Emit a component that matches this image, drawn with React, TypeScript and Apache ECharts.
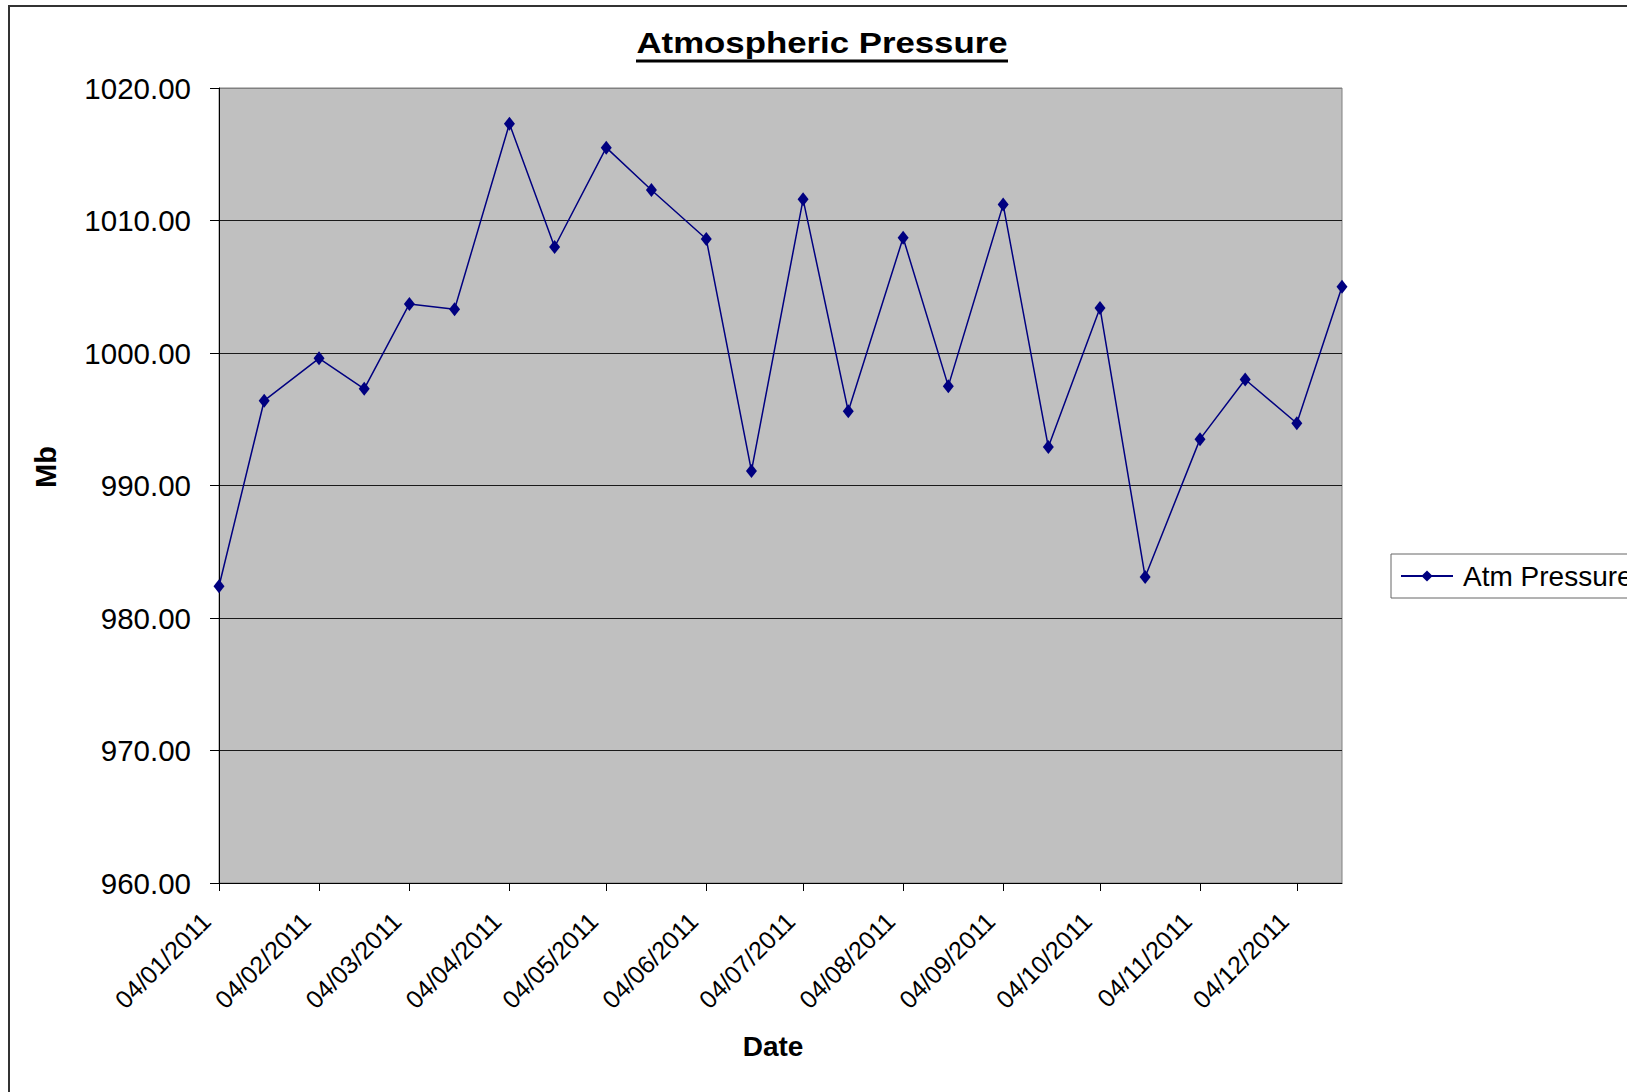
import React, { useEffect, useRef } from 'react';
import * as echarts from 'echarts';

const FONT = '"Liberation Sans", Arial, Helvetica, sans-serif';

const dates = [
  '2011-01-04', '2011-01-18', '2011-02-04', '2011-02-18', '2011-03-04', '2011-03-18',
  '2011-04-04', '2011-04-18', '2011-05-04', '2011-05-18', '2011-06-04', '2011-06-18',
  '2011-07-04', '2011-07-18', '2011-08-04', '2011-08-18', '2011-09-04', '2011-09-18',
  '2011-10-04', '2011-10-18', '2011-11-04', '2011-11-18', '2011-12-04', '2011-12-18',
];

const pressure = [
  982.4, 996.4, 999.6, 997.3, 1003.7, 1003.3,
  1017.3, 1008.0, 1015.5, 1012.3, 1008.6, 991.1,
  1011.6, 995.6, 1008.7, 997.5, 1011.2, 992.9,
  1003.4, 983.1, 993.5, 998.0, 994.7, 1005.0,
];

const tickDates = [
  '2011-01-04', '2011-02-04', '2011-03-04', '2011-04-04', '2011-05-04', '2011-06-04',
  '2011-07-04', '2011-08-04', '2011-09-04', '2011-10-04', '2011-11-04', '2011-12-04',
];

const yMin = 960;
const yMax = 1020;
const yStep = 10;

const ts = (s: string) => {
  const [y, m, d] = s.split('-').map(Number);
  return Date.UTC(y, m - 1, d);
};

const pad = (n: number) => (n < 10 ? '0' + n : '' + n);
const fmtDate = (v: number) => {
  const d = new Date(v);
  return pad(d.getUTCDate()) + '/' + pad(d.getUTCMonth() + 1) + '/' + d.getUTCFullYear();
};

export default function App() {
  const ref = useRef<HTMLDivElement>(null);

  useEffect(() => {
    document.body.style.margin = '0';
    document.body.style.overflow = 'hidden';
    const chart = echarts.init(ref.current!, null, { renderer: 'svg' });
    const tickVals = tickDates.map(ts);
    const nLines = Math.round((yMax - yMin) / yStep) + 1;
    const splitColors = Array.from({ length: nLines }, (_, i) => (i === nLines - 1 ? '#808080' : '#1a1a1a'));

    chart.setOption({
      animation: false,
      backgroundColor: '#ffffff',
      grid: {
        left: 219,
        right: 285,
        top: 88,
        bottom: 209,
        show: true,
        backgroundColor: '#C0C0C0',
        borderColor: '#808080',
        borderWidth: 1,
        containLabel: false,
      },
      legend: {
        data: ['Atm Pressure'],
        left: 1391,
        top: 554,
        orient: 'horizontal',
        padding: [8, 9, 8, 9],
        itemWidth: 52,
        itemHeight: 14,
        borderColor: '#666666',
        borderWidth: 1,
        borderRadius: 0,
        backgroundColor: '#ffffff',
        textStyle: {
          fontSize: 28,
          fontFamily: FONT,
          color: '#000000',
          lineHeight: 28,
          padding: [0, 0, 0, 5],
        },
      },
      xAxis: {
        type: 'value',
        min: ts(dates[0]),
        max: ts(dates[dates.length - 1]),
        scale: true,
        axisLine: { show: true, onZero: false, lineStyle: { color: '#000000', width: 1 } },
        axisTick: {
          show: true,
          customValues: tickVals,
          length: 8,
          lineStyle: { color: '#000000', width: 1 },
        },
        axisLabel: {
          show: true,
          customValues: tickVals,
          rotate: 45,
          margin: 21,
          padding: [0, 18, 0, 0],
          fontSize: 25,
          fontFamily: FONT,
          color: '#000000',
          hideOverlap: false,
          showMinLabel: true,
          showMaxLabel: true,
          formatter: (v: number) => fmtDate(v),
        },
        splitLine: { show: false },
      },
      yAxis: {
        type: 'value',
        min: yMin,
        max: yMax,
        interval: yStep,
        axisLine: { show: true, lineStyle: { color: '#000000', width: 1 } },
        axisTick: { show: true, length: 9, lineStyle: { color: '#000000', width: 1 } },
        axisLabel: {
          margin: 28,
          fontSize: 29.5,
          fontFamily: FONT,
          color: '#000000',
          formatter: (v: number) => v.toFixed(2),
        },
        splitLine: { show: true, lineStyle: { color: splitColors, width: 1 } },
      },
      series: [
        {
          name: 'Atm Pressure',
          type: 'line',
          data: dates.map((d, i) => [ts(d), pressure[i]]),
          symbol: 'diamond',
          symbolSize: [11, 14],
          lineStyle: { color: '#000080', width: 1.5 },
          itemStyle: { color: '#000080' },
        },
      ],
      graphic: [
        {
          type: 'rect',
          z: 100,
          shape: { x: 9, y: 6, width: 3000, height: 3000 },
          style: { fill: 'none', stroke: '#333333', lineWidth: 2 },
          silent: true,
        },
        {
          type: 'text',
          x: 822,
          y: 43,
          scaleX: 1.16,
          style: {
            text: 'Atmospheric Pressure',
            fontSize: 30,
            fontWeight: 'bold',
            fontFamily: FONT,
            fill: '#000000',
            textAlign: 'center',
            textVerticalAlign: 'middle',
          },
        },
        {
          type: 'line',
          shape: { x1: 636, y1: 61, x2: 1008, y2: 61 },
          style: { stroke: '#000000', lineWidth: 3 },
        },
        {
          type: 'text',
          x: 46,
          y: 467,
          rotation: Math.PI / 2,
          style: {
            text: 'Mb',
            fontSize: 29,
            fontWeight: 'bold',
            fontFamily: FONT,
            fill: '#000000',
            textAlign: 'center',
            textVerticalAlign: 'middle',
          },
        },
        {
          type: 'text',
          x: 773,
          y: 1046,
          style: {
            text: 'Date',
            fontSize: 28,
            fontWeight: 'bold',
            fontFamily: FONT,
            fill: '#000000',
            textAlign: 'center',
            textVerticalAlign: 'middle',
          },
        },
      ],
    });

    return () => chart.dispose();
  }, []);

  return <div ref={ref} style={{ width: 1627, height: 1092 }} />;
}
